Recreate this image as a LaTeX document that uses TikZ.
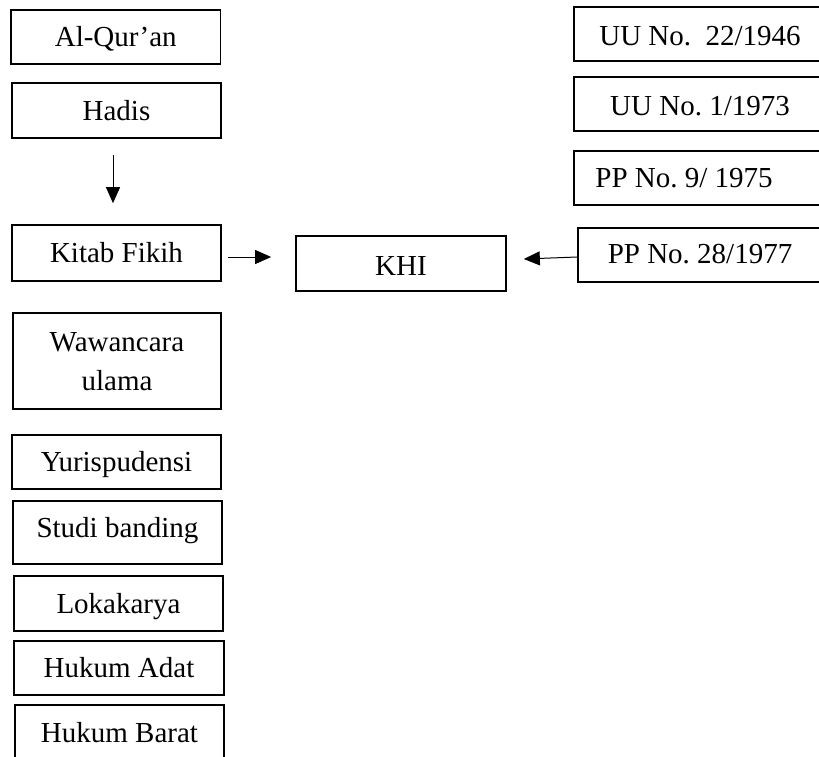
\documentclass[tikz,border=0pt]{standalone}
\usepackage{fontspec}
\setmainfont{Liberation Serif}
\usetikzlibrary{arrows.meta}
\tikzset{
  box/.style={draw, line width=1.7pt, inner sep=0pt, text height=24pt, text depth=4.8pt,
    font=\fontsize{29}{39}\selectfont\frenchspacing},
  arr/.style={line width=1pt, -{Triangle[length=16pt,width=14pt]}},
}
\begin{document}
\begin{tikzpicture}[x=1pt,y=-1pt]
\useasboundingbox (0,0) rectangle (819,756);
\clip (0,0) rectangle (819,756);
% left column
\node[box, minimum width=209.5, minimum height=54] (quran) at (115.75,37) {Al-Qur’an};
\node[box, minimum width=209, minimum height=55] (hadis) at (116.5,110.5) {Hadis};
\node[box, minimum width=209, minimum height=56] (kitab) at (116.5,253) {Kitab Fikih};
\node[box, minimum width=208, minimum height=96, align=center, text height=63pt, text depth=5pt] (waw) at (117,361) {Wawancara\\ulama};
\node[box, minimum width=209, minimum height=54] (yuris) at (116.5,462) {Yurispudensi};
\node[box, minimum width=209, minimum height=63, text depth=15pt] (studi) at (117.5,532.5) {Studi banding};
\node[box, minimum width=209, minimum height=55] (loka) at (118.5,603.5) {Lokakarya};
\node[box, minimum width=210, minimum height=54] (adat) at (119,668) {Hukum Adat};
\node[box, minimum width=209, minimum height=56] (barat) at (119.5,733) {Hukum Barat};
% centre
\node[box, minimum width=210, minimum height=55, text depth=1pt] (khi) at (401,263.5) {KHI};
% right column
\node[box, minimum width=252, minimum height=54, text depth=2pt] (uu22) at (700,34) {UU No.~ 22/1946};
\node[box, minimum width=252, minimum height=54, text depth=2pt] (uu1) at (700,104) {UU No. 1/1973};
\node[box, minimum width=252, minimum height=54] (pp9) at (700,178) {PP No. 9/ 1975\hspace*{32pt}};
\node[box, minimum width=244, minimum height=54, text depth=8pt] (pp28) at (700,255) {PP No. 28/1977};
% connectors
\draw[arr] ([yshift=-16pt,xshift=-3.5pt]hadis.south) -- ([yshift=21pt,xshift=-3.5pt]kitab.north);
\draw[arr] ([xshift=6pt,yshift=-4pt]kitab.east) -- ([xshift=-24pt,yshift=-4pt]kitab.east -| khi.west);
\draw[arr] ([yshift=-2pt]pp28.west) -- ([shift={(17pt,4.5pt)}]khi.east);
\end{tikzpicture}
\end{document}
